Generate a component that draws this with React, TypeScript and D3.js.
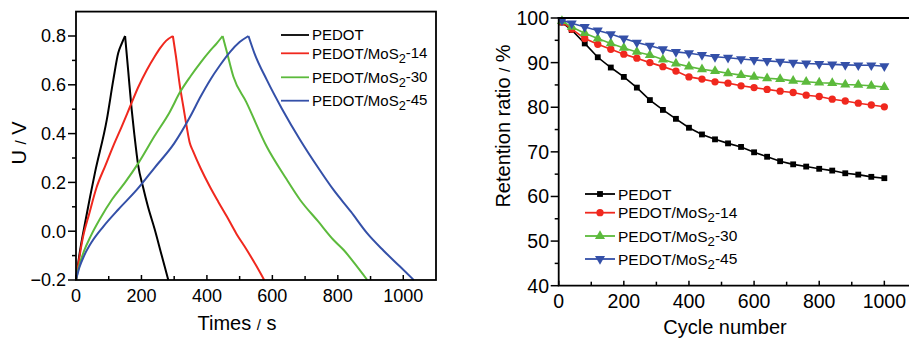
import React from "react";
import * as d3 from "d3";

// ---------- Left panel data (GCD curves) ----------
const pedotT = [0, 10, 30, 58, 94, 114, 129, 140, 150, 160, 170, 178, 190, 205, 220, 240, 260, 282];
const pedotU = [-0.2, -0.1, 0.05, 0.24, 0.456, 0.62, 0.73, 0.77, 0.8, 0.65, 0.5, 0.4, 0.27, 0.18, 0.1, 0.01, -0.09, -0.2];

const m14T = [0, 10, 22, 40, 63, 90, 114, 140, 165, 190, 216, 240, 257, 275, 296, 305, 318, 328, 338, 348, 357, 380, 410, 435, 461, 490, 522, 550, 575];
const m14U = [-0.2, -0.11, -0.02, 0.07, 0.18, 0.27, 0.35, 0.43, 0.51, 0.59, 0.66, 0.715, 0.75, 0.78, 0.8, 0.72, 0.59, 0.51, 0.43, 0.36, 0.33, 0.26, 0.18, 0.12, 0.06, -0.01, -0.077, -0.14, -0.2];

const m30T = [0, 10, 25, 45, 73, 110, 150, 191, 240, 287, 318, 350, 380, 410, 430, 448, 460, 481, 520, 583, 640, 685, 740, 787, 818, 850, 890];
const m30U = [-0.2, -0.14, -0.08, -0.02, 0.05, 0.13, 0.2, 0.28, 0.39, 0.49, 0.57, 0.635, 0.69, 0.74, 0.77, 0.8, 0.74, 0.633, 0.53, 0.346, 0.22, 0.128, 0.04, -0.036, -0.077, -0.13, -0.2];

const m45T = [0, 10, 25, 50, 84, 130, 186, 240, 300, 349, 380, 410, 440, 471, 500, 527, 545, 583, 630, 685, 740, 787, 840, 890, 940, 990, 1032];
const m45U = [-0.2, -0.15, -0.1, -0.04, 0.02, 0.09, 0.17, 0.26, 0.36, 0.47, 0.55, 0.62, 0.68, 0.735, 0.775, 0.8, 0.73, 0.62, 0.5, 0.374, 0.26, 0.169, 0.08, -0.009, -0.08, -0.145, -0.2];

const leftXTicks = [0, 200, 400, 600, 800, 1000];
const leftYTicks = [-0.2, 0.0, 0.2, 0.4, 0.6, 0.8];

// ---------- Right panel data (cycling) ----------
const cycles = [10, 40, 80, 120, 160, 200, 240, 280, 320, 360, 400, 440, 480, 520, 560, 600, 640, 680, 720, 760, 800, 840, 880, 920, 960, 1000];
const retPedot = [99.0, 97.3, 94.3, 91.2, 88.9, 86.8, 84.4, 81.6, 79.4, 77.4, 75.4, 73.9, 72.8, 71.9, 71.1, 69.9, 68.9, 67.9, 67.2, 66.7, 66.2, 65.8, 65.2, 64.9, 64.4, 64.1];
const ret14 = [99.1, 97.5, 95.4, 94.1, 93.0, 91.9, 91.0, 90.0, 89.1, 88.1, 86.8, 86.3, 85.7, 85.4, 84.8, 84.4, 84.0, 83.6, 83.3, 82.7, 82.4, 81.8, 81.4, 80.9, 80.5, 80.1];
const ret30 = [99.3, 98.0, 96.6, 95.4, 94.3, 93.3, 92.4, 91.7, 90.7, 89.8, 89.1, 88.5, 88.1, 87.6, 87.2, 86.8, 86.5, 86.3, 85.9, 85.7, 85.5, 85.4, 85.1, 85.0, 84.8, 84.5];
const ret45 = [99.5, 98.8, 98.0, 97.2, 96.4, 95.4, 94.5, 93.8, 93.0, 92.4, 92.1, 91.7, 91.3, 91.1, 90.8, 90.6, 90.4, 90.2, 90.0, 89.8, 89.7, 89.6, 89.5, 89.4, 89.4, 89.2];

const rightXTicks = [0, 200, 400, 600, 800, 1000];
const rightYTicks = [40, 50, 60, 70, 80, 90, 100];

const seriesNames = ["PEDOT", "PEDOT/MoS", "PEDOT/MoS", "PEDOT/MoS"];
const seriesSuffix = ["", "-14", "-30", "-45"];
const colors = ["#000000", "#f0281e", "#5cba3c", "#3450a8"];

const FONT = "'Liberation Sans', Arial, Helvetica, sans-serif";

function LegendLabel({ i, x, y, size }: { i: number; x: number; y: number; size: number }) {
  return (
    <text x={x} y={y} dy="0.36em" fontSize={size} fontFamily={FONT} fill="#000">
      {seriesNames[i]}
      {i > 0 && (
        <>
          <tspan fontSize={size * 0.85} dy="0.3em">2</tspan>
          <tspan dy="-0.3em">{seriesSuffix[i]}</tspan>
        </>
      )}
    </text>
  );
}

function LeftPanel() {
  const x = d3.scaleLinear().domain([0, 1100]).range([76, 436]);
  const y = d3.scaleLinear().domain([-0.2, 0.9]).range([280, 11.6]);
  const data = [
    [pedotT, pedotU],
    [m14T, m14U],
    [m30T, m30U],
    [m45T, m45U],
  ];
  const line = d3
    .line<[number, number]>()
    .x((d) => x(d[0]))
    .y((d) => y(d[1]))
    .curve(d3.curveMonotoneX);
  const minorX = d3.range(100, 1100, 200);
  const minorY = d3.range(-0.1, 0.9, 0.2);
  const legendY = [35, 53.3, 77.3, 100.7];
  return (
    <g>
      {data.map(([t, u], i) => {
        const pts = t.map((tv, k) => [tv, u[k]] as [number, number]);
        const pk = d3.maxIndex(u);
        const charge = pts.slice(0, pk + 1);
        const discharge = pts.slice(pk);
        return (
          <g key={i}>
            {[charge, discharge].map((seg, s) => (
              <path
                key={s}
                d={line(seg) || ""}
                fill="none"
                stroke={colors[i]}
                strokeWidth={2}
                strokeLinejoin="round"
              />
            ))}
          </g>
        );
      })}
      <rect x={76} y={11.6} width={360} height={268.4} fill="none" stroke="#000" strokeWidth={1.8} />
      {leftXTicks.map((v) => (
        <g key={"lx" + v}>
          <line x1={x(v)} x2={x(v)} y1={280} y2={275} stroke="#000" strokeWidth={1.5} />
          <text x={x(v)} y={302} textAnchor="middle" fontSize={18} fontFamily={FONT}>
            {v}
          </text>
        </g>
      ))}
      {minorX.map((v) => (
        <line key={"lmx" + v} x1={x(v)} x2={x(v)} y1={280} y2={276} stroke="#000" strokeWidth={1.5} />
      ))}
      {leftYTicks.map((v) => (
        <g key={"ly" + v}>
          <line x1={68} x2={76} y1={y(v)} y2={y(v)} stroke="#000" strokeWidth={1.5} />
          <text x={66} y={y(v)} dy="0.36em" textAnchor="end" fontSize={18} fontFamily={FONT}>
            {d3.format(".1f")(v)}
          </text>
        </g>
      ))}
      {minorY.map((v) => (
        <line key={"lmy" + v} x1={72} x2={76} y1={y(v)} y2={y(v)} stroke="#000" strokeWidth={1.5} />
      ))}
      <text x={237} y={330} textAnchor="middle" fontSize={20} fontFamily={FONT}>
        Times <tspan fontSize={15}>/</tspan> s
      </text>
      <text
        transform="translate(19,143) rotate(-90)"
        dy="0.36em"
        textAnchor="middle"
        fontSize={20}
        fontFamily={FONT}
      >
        U <tspan fontSize={15}>/</tspan> V
      </text>
      {legendY.map((ly, i) => (
        <g key={"lg" + i}>
          <line x1={281} x2={309} y1={ly} y2={ly} stroke={colors[i]} strokeWidth={1.8} />
          <LegendLabel i={i} x={312} y={ly} size={15} />
        </g>
      ))}
    </g>
  );
}

function RightPanel() {
  const x = d3.scaleLinear().domain([0, 1100]).range([558.7, 916.9]);
  const y = d3.scaleLinear().domain([40, 100]).range([285.7, 18]);
  const series = [retPedot, ret14, ret30, ret45];
  const symbols = [d3.symbolSquare, d3.symbolCircle, d3.symbolTriangle, d3.symbolTriangle];
  const sizes = [34, 42, 44, 44];
  const rot = [0, 0, 0, 180];
  const line = d3
    .line<number>()
    .x((_, k) => x(cycles[k]))
    .y((d) => y(d));
  const minorX = d3.range(100, 1100, 200);
  const minorY = d3.range(45, 100, 10);
  const legendY = [194, 212.7, 236, 259];
  const sym = (i: number) => d3.symbol().type(symbols[i]).size(sizes[i])() || "";
  return (
    <g>
      {series.map((vals, i) => (
        <g key={i}>
          <path d={line(vals) || ""} fill="none" stroke={colors[i]} strokeWidth={1.6} />
          {vals.map((v, k) => (
            <path
              key={k}
              d={sym(i)}
              transform={`translate(${x(cycles[k])},${y(v)}) rotate(${rot[i]})`}
              fill={colors[i]}
            />
          ))}
        </g>
      ))}
      <path d={`M${x(1100)},18 H558.7 V285.7 H${x(1100)}`} fill="none" stroke="#000" strokeWidth={1.8} />
      {rightXTicks.map((v) => (
        <g key={"rx" + v}>
          <line x1={x(v)} x2={x(v)} y1={285.7} y2={280.7} stroke="#000" strokeWidth={1.5} />
          <text x={x(v)} y={308} textAnchor="middle" fontSize={19.5} fontFamily={FONT}>
            {v}
          </text>
        </g>
      ))}
      {minorX.map((v) => (
        <line key={"rmx" + v} x1={x(v)} x2={x(v)} y1={285.7} y2={281.7} stroke="#000" strokeWidth={1.5} />
      ))}
      {rightYTicks.map((v) => (
        <g key={"ry" + v}>
          <line x1={550.7} x2={558.7} y1={y(v)} y2={y(v)} stroke="#000" strokeWidth={1.5} />
          <text x={549} y={y(v)} dy="0.36em" textAnchor="end" fontSize={19.5} fontFamily={FONT}>
            {v}
          </text>
        </g>
      ))}
      {minorY.map((v) => (
        <line key={"rmy" + v} x1={554.7} x2={558.7} y1={y(v)} y2={y(v)} stroke="#000" strokeWidth={1.5} />
      ))}
      <text x={725} y={334} textAnchor="middle" fontSize={20} fontFamily={FONT}>
        Cycle number
      </text>
      <text
        transform="translate(503,126) rotate(-90)"
        dy="0.36em"
        textAnchor="middle"
        fontSize={20}
        fontFamily={FONT}
      >
        Retention ratio <tspan fontSize={15}>/</tspan> %
      </text>
      {legendY.map((ly, i) => (
        <g key={"rg" + i}>
          <line x1={585} x2={615} y1={ly} y2={ly} stroke={colors[i]} strokeWidth={1.8} />
          <path d={sym(i)} transform={`translate(600,${ly}) rotate(${rot[i]})`} fill={colors[i]} />
          <LegendLabel i={i} x={618} y={ly} size={15.5} />
        </g>
      ))}
    </g>
  );
}

export default function App() {
  return (
    <svg
      width={909}
      height={340}
      style={{ position: "absolute", left: 0, top: 0, background: "#fff" }}
    >
      <rect width={909} height={340} fill="#fff" />
      <LeftPanel />
      <RightPanel />
    </svg>
  );
}
